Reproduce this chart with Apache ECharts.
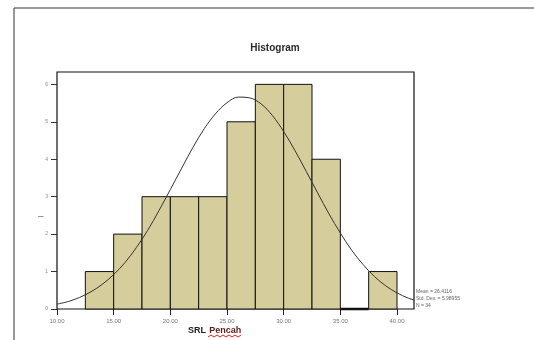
<!DOCTYPE html>
<html>
<head>
<meta charset="utf-8">
<script src="https://cdn.jsdelivr.net/npm/echarts@6/dist/echarts.min.js"></script>
<style>
  html, body { margin: 0; padding: 0; background: #fff; }
  #chart { width: 534px; height: 340px; }
</style>
</head>
<body>
<div id="chart"></div>
<script>
// histogram bins (SRL Pencah), width 2.5
const binStart = [12.5, 15, 17.5, 20, 22.5, 25, 27.5, 30, 32.5, 35, 37.5];
const binEnd = [15, 17.5, 20, 22.5, 25, 27.5, 30, 32.5, 35, 37.5, 40];
const binCount = [1, 2, 3, 3, 3, 5, 6, 6, 4, 0, 1];

// normal curve
const curveX = [10, 11, 12, 13, 14, 15, 16, 17, 18, 19, 20, 21, 22, 23, 24, 25, 26, 27, 28, 29, 30, 31, 32, 33, 34, 35, 36, 37, 38, 39, 40, 41, 41.5];
const curveY = [0.13, 0.2, 0.31, 0.46, 0.66, 0.92, 1.24, 1.64, 2.1, 2.63, 3.19, 3.76, 4.32, 4.82, 5.22, 5.51, 5.66, 5.64, 5.48, 5.17, 4.74, 4.23, 3.67, 3.1, 2.54, 2.03, 1.57, 1.19, 0.87, 0.62, 0.43, 0.29, 0.24];

const xTicks = [10, 15, 20, 25, 30, 35, 40];
const yTicks = [0, 1, 2, 3, 4, 5, 6];
const statLines = ['Mean = 26.4116', 'Std. Dev. = 5.98955', 'N = 34'];

const chart = echarts.init(document.getElementById('chart'), null, { renderer: 'canvas' });

const bins = binCount.map((c, i) => [binStart[i], binEnd[i], c]);
const curve = curveX.map((x, i) => [x, curveY[i]]);

const option = {
  backgroundColor: '#fff',
  animation: false,
  textStyle: { fontFamily: 'Liberation Sans, Arial, sans-serif' },
  title: {
    text: 'Histogram',
    left: 270,
    top: 38,
    textAlign: 'center',
    textStyle: { fontSize: 10, fontWeight: 'bold', color: '#2a2a2a' }
  },
  grid: {
    left: 57,
    right: 120,
    top: 72,
    bottom: 31,
    show: true,
    borderColor: '#111',
    borderWidth: 1.2
  },
  xAxis: {
    type: 'value',
    min: 10,
    max: 41.5,
    interval: 5,
    splitLine: { show: false },
    axisLine: { show: false },
    axisTick: { show: true, length: 6, lineStyle: { color: '#222' }, customValues: xTicks },
    axisLabel: {
      fontSize: 6, color: '#777', margin: 9,
      customValues: xTicks,
      formatter: (v) => v.toFixed(2)
    }
  },
  yAxis: {
    type: 'value',
    min: 0,
    max: 6.33,
    interval: 1,
    splitLine: { show: false },
    axisLine: { show: false },
    axisTick: { show: true, length: 6, lineStyle: { color: '#333' }, customValues: yTicks },
    axisLabel: { fontSize: 5, color: '#888', margin: 9, customValues: yTicks }
  },
  series: [
    {
      type: 'custom',
      data: bins,
      encode: { x: [0, 1], y: 2 },
      renderItem: (params, api) => {
        const p0 = api.coord([api.value(0), api.value(2)]);
        const p1 = api.coord([api.value(1), 0]);
        const empty = api.value(2) === 0;
        return {
          type: 'rect',
          shape: { x: p0[0], y: p0[1], width: p1[0] - p0[0], height: p1[1] - p0[1] },
          style: {
            fill: '#d5cd9c',
            stroke: '#111',
            lineWidth: empty ? 2.5 : 1
          }
        };
      },
      z: 2
    },
    {
      type: 'line',
      data: curve,
      smooth: 0.35,
      symbol: 'none',
      lineStyle: { color: '#333', width: 1 },
      z: 3
    }
  ],
  graphic: [
    // outer frame (top and left edges)
    { type: 'line', shape: { x1: 14, y1: 8, x2: 534, y2: 8 }, style: { stroke: '#333', lineWidth: 1 } },
    { type: 'line', shape: { x1: 14, y1: 8, x2: 14, y2: 340 }, style: { stroke: '#333', lineWidth: 1 } },
    // y axis title (rendered as a dash in the source)
    {
      type: 'text', left: 38, top: 211,
      style: { text: '–', fontSize: 10, fill: '#777' }
    },
    // stats box text
    {
      type: 'text', left: 416, top: 288,
      style: { text: statLines.join('\n'), fontSize: 5, lineHeight: 7, fill: '#666' }
    },
    // x axis title
    {
      type: 'text', left: 188, top: 325,
      style: {
        text: '{a|SRL} {b|Pencah}',
        rich: {
          a: { fontSize: 9, fontWeight: 'bold', fill: '#222' },
          b: { fontSize: 9, fontWeight: 'bold', fill: '#5a1a1a' }
        }
      }
    },
    // spell-check squiggle
    {
      type: 'polyline',
      shape: { points: [[208, 337], [211, 335], [214, 337], [217, 335], [220, 337], [223, 335], [226, 337], [229, 335], [232, 337], [235, 335], [238, 337], [241, 335]] },
      style: { stroke: '#e02020', lineWidth: 1, fill: null }
    }
  ]
};

chart.setOption(option);
</script>
</body>
</html>
